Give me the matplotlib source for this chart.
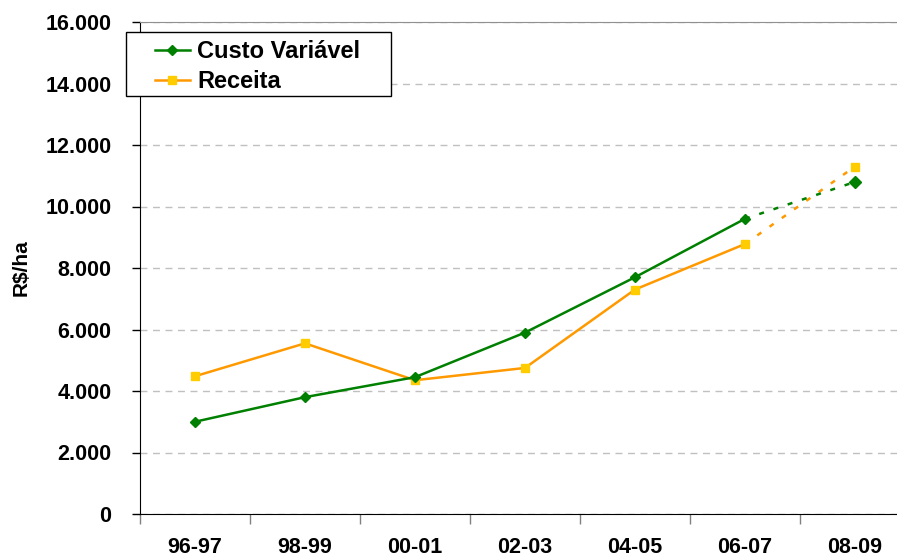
import numpy as np
import matplotlib.pyplot as plt
from matplotlib.patches import Rectangle
from matplotlib.ticker import FuncFormatter, MultipleLocator

# data
safras = ['96-97', '98-99', '00-01', '02-03', '04-05', '06-07', '08-09']
custo = [3000, 3800, 4450, 5900, 7700, 9600, 10800]
receita = [4480, 5550, 4350, 4750, 7300, 8780, 11300]

plt.rcParams['font.family'] = ['Liberation Sans', 'DejaVu Sans']
plt.rcParams['font.weight'] = 'bold'

fig = plt.figure(figsize=(8.97, 5.58), dpi=100)
ax = fig.add_axes([140/897, 44/558, 770/897, 492/558])

x = np.arange(len(safras))
verde = '#008000'
laranja = '#FF9900'
amarelo = '#FFCC00'
pontilhado = (0, (2, 4))

# solid part up to 06-07, dotted projection to 08-09
ax.plot(x[:6], custo[:6], color=verde, lw=1.8, marker='D', ms=5.5,
        mfc=verde, mec=verde, label='Custo Variável', zorder=4)
ax.plot(x[5:], custo[5:], color=verde, lw=1.8, ls=pontilhado, zorder=3)
ax.plot(x[6:], custo[6:], ls='none', marker='D', ms=6, color=verde, zorder=4)

ax.plot(x[:6], receita[:6], color=laranja, lw=1.8, marker='s', ms=6,
        mfc=amarelo, mec=amarelo, label='Receita', zorder=3)
ax.plot(x[5:], receita[5:], color=laranja, lw=1.8, ls=pontilhado, zorder=2)
ax.plot(x[6:], receita[6:], ls='none', marker='s', ms=6, color=amarelo, zorder=3)

ax.set_xlim(-0.5, 6.5)
ax.set_ylim(0, 16000)
ax.yaxis.set_major_locator(MultipleLocator(2000))
ax.yaxis.set_major_formatter(FuncFormatter(lambda v, p: f'{int(v):,}'.replace(',', '.')))
ax.grid(axis='y', color='#c0c0c0', ls=(0, (5, 4)), lw=1)

ax.set_xticks(x)
ax.set_xticklabels(safras, fontsize=15.5, fontweight='bold')
ax.set_xticks(np.arange(-0.5, 7, 1), minor=True)
ax.tick_params(axis='x', which='major', length=0, pad=16.5)
ax.tick_params(axis='x', which='minor', length=7, width=1, color='#808080')
ax.tick_params(axis='y', length=5.5, width=1, labelsize=15.5, pad=15)
for t in ax.get_yticklabels():
    t.set_fontweight('bold')

ax.spines['right'].set_visible(False)
ax.spines['top'].set_color('#909090')
ax.spines['left'].set_color('black')
ax.spines['bottom'].set_color('black')

ax.set_ylabel('R$/ha', fontsize=15, fontweight='bold')
ax.yaxis.set_label_coords(-0.142, 0.5)

# legend box drawn separately so the inner padding matches
caixa = Rectangle((126/897, 462/558), 265/897, 64/558, transform=fig.transFigure,
                  facecolor='white', edgecolor='black', lw=1, zorder=5, clip_on=False)
ax.add_patch(caixa)
leg = ax.legend(loc='upper left', bbox_to_anchor=(155/897, 518/558),
                bbox_transform=fig.transFigure, frameon=False,
                handlelength=1.48, handletextpad=0.3, borderpad=0,
                borderaxespad=0, labelspacing=0.3,
                prop={'weight': 'bold', 'size': 17})
leg.set_zorder(6)

fig.savefig('out.png', dpi=100)
